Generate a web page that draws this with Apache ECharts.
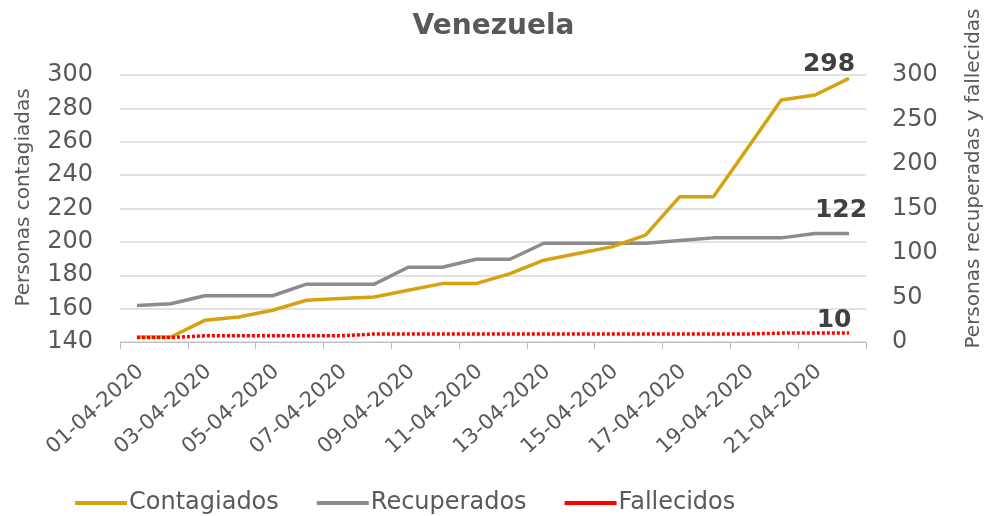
<!DOCTYPE html>
<html>
<head>
<meta charset="utf-8">
<script src="https://cdn.jsdelivr.net/npm/echarts@6/dist/echarts.min.js"></script>
<style>html,body{margin:0;padding:0;background:#fff}#c{width:987px;height:516px}</style>
</head>
<body>
<div id="c"></div>
<script>
const categories = ["01-04-2020","02-04-2020","03-04-2020","04-04-2020","05-04-2020","06-04-2020","07-04-2020","08-04-2020","09-04-2020","10-04-2020","11-04-2020","12-04-2020","13-04-2020","14-04-2020","15-04-2020","16-04-2020","17-04-2020","18-04-2020","19-04-2020","20-04-2020","21-04-2020","22-04-2020"];
const contagiados = [143,143,153,155,159,165,166,167,171,175,175,181,189,193,197,204,227,227,256,285,288,298];
const recuperados = [41,43,52,52,52,65,65,65,84,84,93,93,111,111,111,111,114,117,117,117,122,122];
const fallecidos = [5,5,7,7,7,7,7,9,9,9,9,9,9,9,9,9,9,9,9,10,10,10];
const leftTicks = {min:140, max:300, interval:20};
const rightTicks = {min:0, max:300, interval:50};

const FONT = 'DejaVu Sans';
const TXT = '#595959';
const last = categories.length - 1;
function withEndLabel(arr, offset){
  return arr.map((v,i)=> i===last ? {value:v, label:{show:true, position:'top', distance:1, offset:offset, formatter:'{c}', fontFamily:FONT, fontWeight:'bold', fontSize:25, color:'#404040'}} : v);
}

const chart = echarts.init(document.getElementById('c'));
chart.setOption({
  animation:false,
  title:{text:'Venezuela', left:'center', top:8, textStyle:{fontFamily:FONT, fontWeight:'bold', fontSize:28, color:TXT}},
  grid:{left:120, right:121, top:75, bottom:174, containLabel:false, outerBoundsMode:'none'},
  legend:{top:491, left:75, padding:0, itemWidth:52, itemHeight:4, itemGap:38, icon:'rect',
    textStyle:{fontFamily:FONT, fontSize:24, color:TXT, padding:[0,0,0,-3]},
    data:[
      {name:'Contagiados'},
      {name:'Recuperados'},
      {name:'Fallecidos', itemStyle:{color:'#ff0000', borderWidth:0}, lineStyle:{type:'solid'}}
    ]},
  xAxis:{type:'category', data:categories, boundaryGap:true,
    axisLine:{lineStyle:{color:'#bfbfbf', width:1}},
    axisTick:{show:true, interval:1, length:7, lineStyle:{color:'#bfbfbf'}},
    axisLabel:{interval:1, rotate:42, margin:30, padding:[0,-5,0,0], fontFamily:FONT, fontSize:21, color:TXT}},
  yAxis:[
    {type:'value', min:leftTicks.min, max:leftTicks.max, interval:leftTicks.interval,
     name:'Personas contagiadas', nameLocation:'middle', nameGap:86, nameRotate:90,
     nameTextStyle:{fontFamily:FONT, fontSize:20, color:TXT, padding:[0,0,0,22]},
     axisLine:{show:false}, axisTick:{show:false},
     axisLabel:{margin:27, fontFamily:FONT, fontSize:24, color:TXT},
     splitLine:{lineStyle:{color:'#d9d9d9', width:1.5}}},
    {type:'value', min:rightTicks.min, max:rightTicks.max, interval:rightTicks.interval, position:'right',
     name:'Personas recuperadas y fallecidas', nameLocation:'middle', nameGap:98, nameRotate:90,
     nameTextStyle:{fontFamily:FONT, fontSize:20, color:TXT, padding:[0,0,0,60]},
     axisLine:{show:false}, axisTick:{show:false},
     axisLabel:{margin:26, fontFamily:FONT, fontSize:24, color:TXT},
     splitLine:{show:false}}
  ],
  series:[
    {name:'Contagiados', type:'line', yAxisIndex:0, data:withEndLabel(contagiados,[-20,0]), symbol:'circle', symbolSize:0.1, showSymbol:true,
     itemStyle:{color:'#D4A30F'}, lineStyle:{color:'#D4A30F', width:3.5}, z:3},
    {name:'Recuperados', type:'line', yAxisIndex:1, data:withEndLabel(recuperados,[-8,-9]), symbol:'circle', symbolSize:0.1, showSymbol:true,
     itemStyle:{color:'#8c8c8c'}, lineStyle:{color:'#8c8c8c', width:3.5}, z:2},
    {name:'Fallecidos', type:'line', yAxisIndex:1, data:withEndLabel(fallecidos,[-15,1]), symbol:'circle', symbolSize:0.1, showSymbol:true,
     itemStyle:{color:'#ff0000'}, lineStyle:{color:'#ff0000', width:3.5, type:[3,2]}, z:4}
  ]
});
</script>
</body>
</html>
